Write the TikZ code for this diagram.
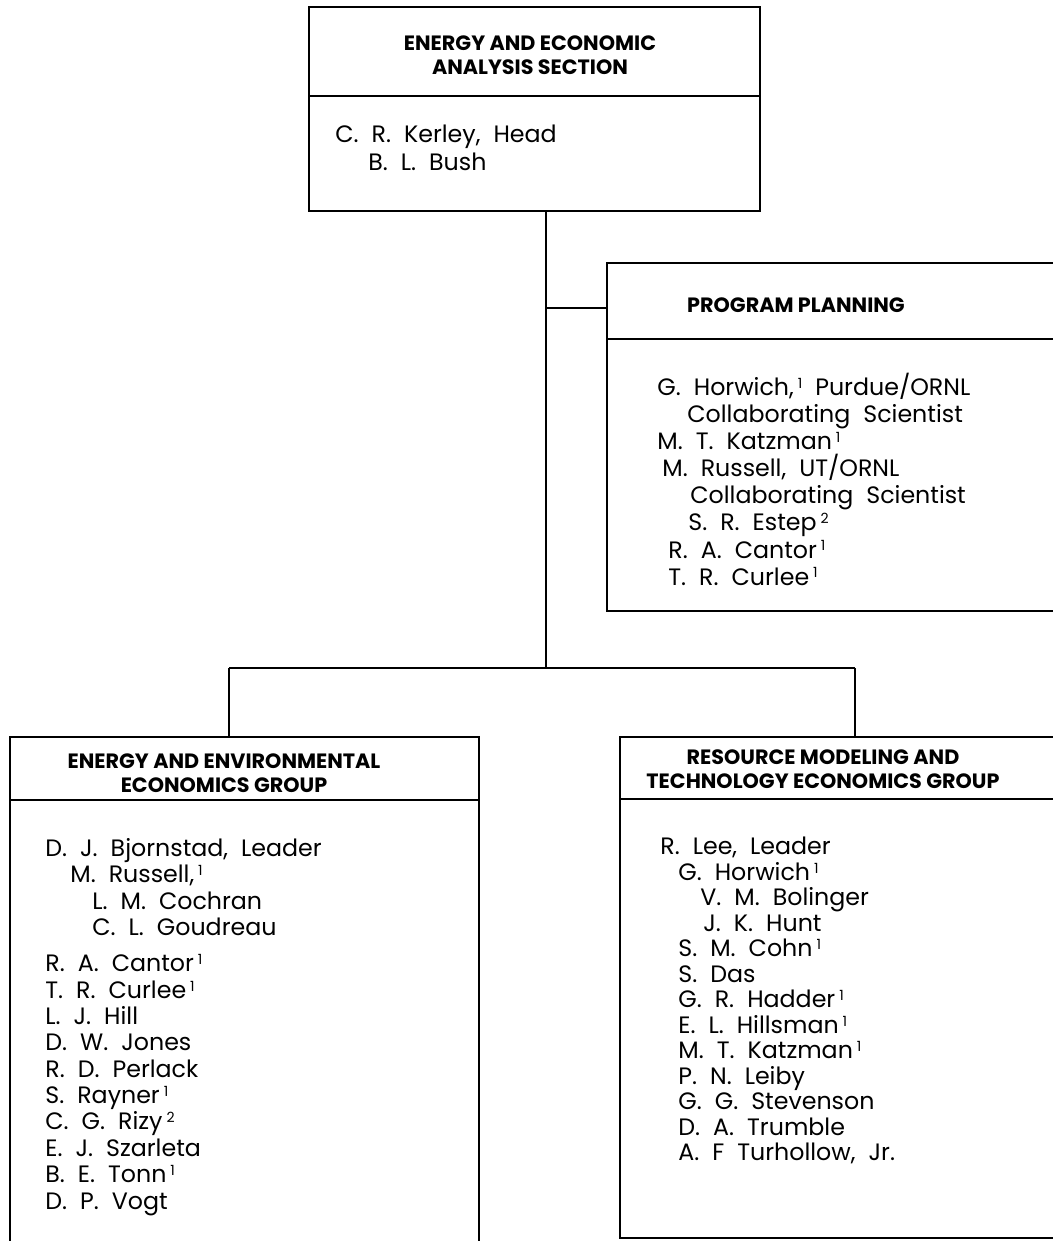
\documentclass[tikz,border=0pt]{standalone}
\usepackage{fontspec}
\setmainfont{Poppins}
\usetikzlibrary{fit, positioning}

\newcommand{\fn}[1]{\,\raisebox{0.3em}{\fontsize{8}{8}\selectfont #1}}
\newcommand{\widesp}{\spaceskip=0.55em\relax}

\begin{document}
\begin{tikzpicture}[
    x=0.02cm, y=-0.02cm,
    unitbox/.style={rectangle, draw, line width=1.1pt, inner sep=0pt},
    boxhead/.style={font=\fontsize{11.8}{13.5}\selectfont\bfseries, align=center,
                    inner sep=0pt},
    members/.style={font=\fontsize{13.5}{#1}\selectfont\widesp,
                    align=left, anchor=north west, inner sep=0pt},
    link/.style={line width=1.1pt},
  ]
  \useasboundingbox (0,0) rectangle (1053,1241);
  \clip (0,0) rectangle (1053,1241);

  % boxes
  \node[unitbox, fit={(309,7) (760,211)}] (sec) {};
  \node[unitbox, fit={(607,263) (1080,611)}] (plan) {};
  \node[unitbox, fit={(10,737) (479,1270)}] (env) {};
  \node[unitbox, fit={(620,737) (1080,1238)}] (res) {};

  \draw[link] (sec.west |- 0,96) -- (sec.east |- 0,96);
  \draw[link] (plan.west |- 0,339) -- (plan.east |- 0,339);
  \draw[link] (env.west |- 0,800) -- (env.east |- 0,800);
  \draw[link] (res.west |- 0,799) -- (res.east |- 0,799);

  % headings
  \node[boxhead] (secT) at (530,55) {ENERGY AND ECONOMIC\\ANALYSIS SECTION};
  \node[boxhead] (planT) at (796,305) {PROGRAM PLANNING};
  \node[boxhead] (envT) at (224,773) {ENERGY AND ENVIRONMENTAL\\ECONOMICS GROUP};
  \node[boxhead] (resT) at (823,769) {RESOURCE MODELING AND\\TECHNOLOGY ECONOMICS GROUP};

  % members
  \node[members=15.9pt] (secM) at (335,125) {C. R. Kerley, Head\\
    \hspace*{0.66cm}B. L. Bush};
  \node[members=15.4pt] (planM) at (657,373) {G. Horwich,\fn{1} Purdue/ORNL\\
    \hspace*{0.6cm}Collaborating Scientist\\
    M. T. Katzman\fn{1}\\
    \hspace*{0.1cm}M. Russell, UT/ORNL\\
    \hspace*{0.66cm}Collaborating Scientist\\
    \hspace*{0.62cm}S. R. Estep\fn{2}\\
    \hspace*{0.22cm}R. A. Cantor\fn{1}\\
    \hspace*{0.22cm}T. R. Curlee\fn{1}};
  \node[members=15pt] (envM) at (45,838) {D. J. Bjornstad, Leader\\
    \hspace*{0.5cm}M. Russell,\fn{1}\\
    \hspace*{0.94cm}L. M. Cochran\\
    \hspace*{0.94cm}C. L. Goudreau\\[0.2cm]
    R. A. Cantor\fn{1}\\
    T. R. Curlee\fn{1}\\
    L. J. Hill\\
    D. W. Jones\\
    R. D. Perlack\\
    S. Rayner\fn{1}\\
    C. G. Rizy\fn{2}\\
    E. J. Szarleta\\
    B. E. Tonn\fn{1}\\
    D. P. Vogt};
  \node[members=14.5pt] (resM) at (660,837) {R. Lee, Leader\\
    \hspace*{0.36cm}G. Horwich\fn{1}\\
    \hspace*{0.8cm}V. M. Bolinger\\
    \hspace*{0.86cm}J. K. Hunt\\
    \hspace*{0.36cm}S. M. Cohn\fn{1}\\
    \hspace*{0.36cm}S. Das\\
    \hspace*{0.36cm}G. R. Hadder\fn{1}\\
    \hspace*{0.36cm}E. L. Hillsman\fn{1}\\
    \hspace*{0.36cm}M. T. Katzman\fn{1}\\
    \hspace*{0.36cm}P. N. Leiby\\
    \hspace*{0.36cm}G. G. Stevenson\\
    \hspace*{0.36cm}D. A. Trumble\\
    \hspace*{0.36cm}A. F Turhollow, Jr.};

  % connectors
  \coordinate (hub) at (546,668);
  \coordinate (busL) at (229,668);
  \coordinate (busR) at (855,668);
  \draw[link] (sec.south -| hub) -- (hub);
  \draw[link] (hub |- 0,308) -- (plan.west |- 0,308);
  \draw[link] (busL) -- (busR);
  \draw[link] (busL) -- (busL |- env.north);
  \draw[link] (busR) -- (busR |- res.north);
\end{tikzpicture}
\end{document}
